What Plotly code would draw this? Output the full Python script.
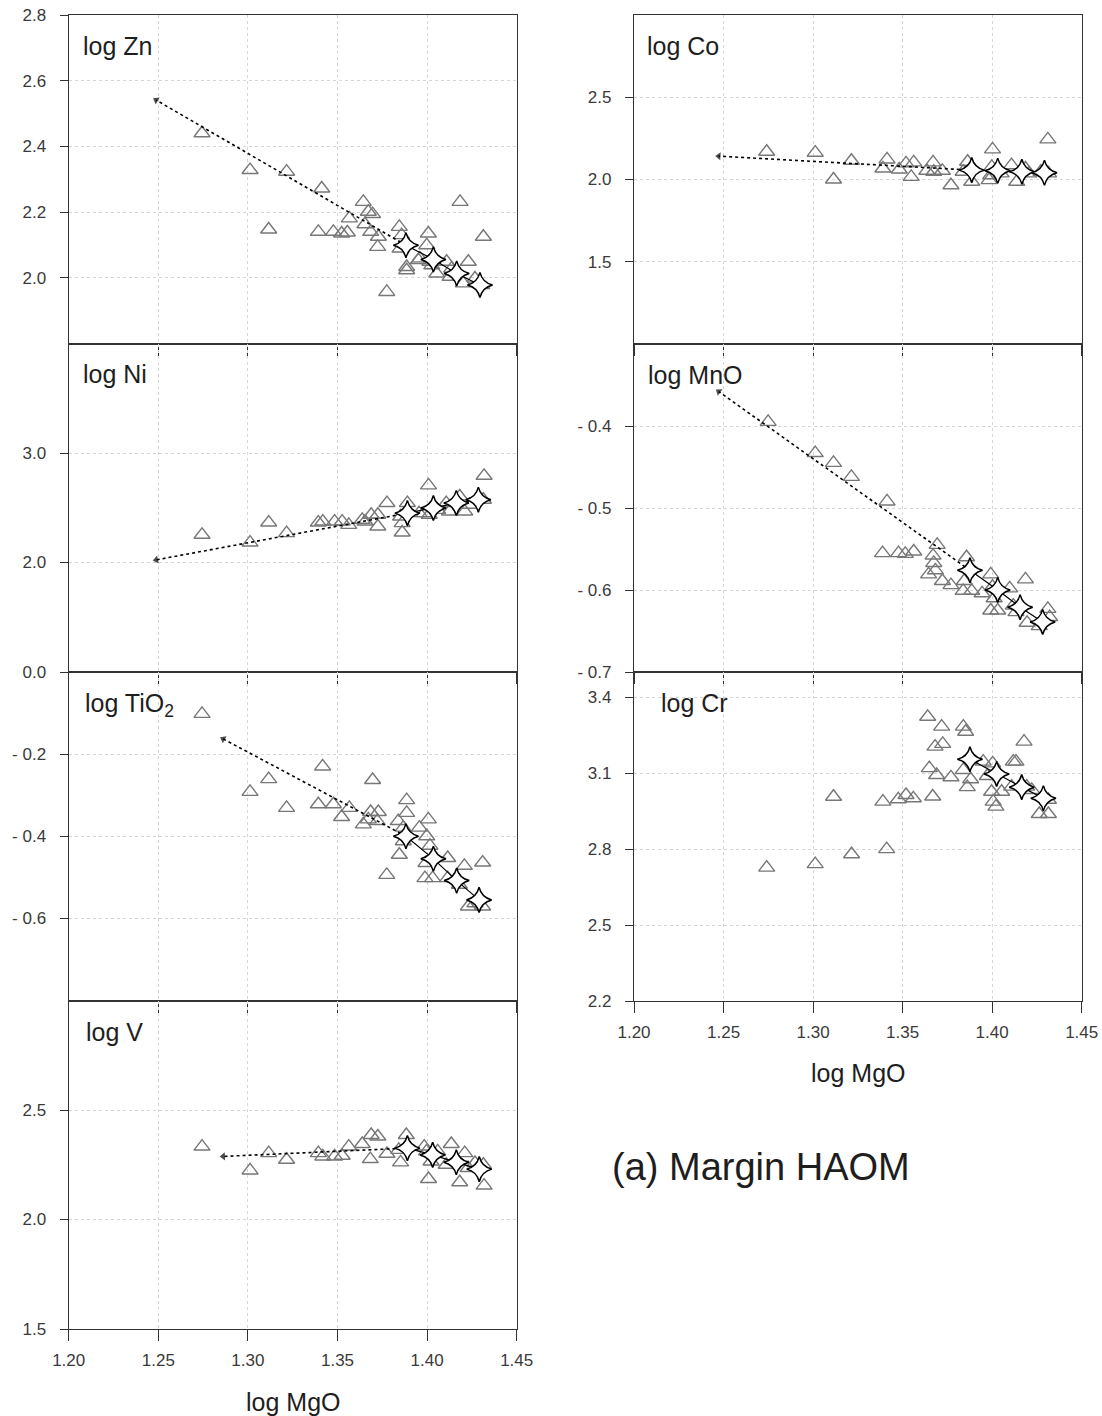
import plotly.graph_objects as go

# ---------------- data ----------------
mgo_ticks = [1.20, 1.25, 1.30, 1.35, 1.40, 1.45]

zn_mgo = [1.2744, 1.3012, 1.3116, 1.3216, 1.3412, 1.3393, 1.3477, 1.3523, 1.3555, 1.3566,
          1.3644, 1.3672, 1.3696, 1.3653, 1.3685, 1.3728, 1.3724, 1.3845, 1.3858, 1.3849,
          1.3886, 1.3886, 1.3775, 1.4007, 1.3998, 1.3960, 1.4016, 1.4054, 1.4109, 1.4128,
          1.4137, 1.4184, 1.4230, 1.4202, 1.4267, 1.4314, 1.4305, 1.3951, 1.4026]
zn_val = [2.440, 2.328, 2.147, 2.323, 2.272, 2.140, 2.140, 2.135, 2.138, 2.181,
          2.231, 2.201, 2.194, 2.163, 2.140, 2.125, 2.094, 2.155, 2.130, 2.089,
          2.033, 2.023, 1.957, 2.135, 2.099, 2.059, 2.049, 2.013, 2.049, 2.003,
          2.028, 2.231, 2.049, 1.983, 1.998, 2.125, 1.978, 2.054, 2.038]
zn_star_mgo = [1.3882, 1.4035, 1.4165, 1.4295]
zn_star_val = [2.099, 2.056, 2.013, 1.978]
zn_tip = [1.2488, 2.541]
zn_yticks = [2.0, 2.2, 2.4, 2.6, 2.8]

ni_mgo = [1.2744, 1.3012, 1.3116, 1.3216, 1.3393, 1.3418, 1.3484, 1.3526, 1.3563, 1.3638,
          1.3654, 1.3688, 1.3725, 1.3725, 1.3776, 1.3852, 1.3861, 1.3861, 1.3890, 1.3955,
          1.3984, 1.4008, 1.4012, 1.4059, 1.4107, 1.4125, 1.4182, 1.4210, 1.4238, 1.4318,
          1.4314]
ni_val = [2.253, 2.182, 2.365, 2.268, 2.365, 2.374, 2.374, 2.374, 2.344, 2.390,
          2.374, 2.436, 2.436, 2.329, 2.543, 2.420, 2.360, 2.274, 2.543, 2.451,
          2.451, 2.704, 2.436, 2.481, 2.543, 2.466, 2.603, 2.466, 2.527, 2.792,
          2.573]
ni_star_mgo = [1.3890, 1.4035, 1.4163, 1.4286]
ni_star_val = [2.451, 2.497, 2.543, 2.573]
ni_tip = [1.2488, 2.024]
ni_yticks = [2.0, 3.0]

ti_mgo = [1.2744, 1.3012, 1.3116, 1.3216, 1.3417, 1.3393, 1.3477, 1.3523, 1.3566, 1.3696,
          1.3644, 1.3685, 1.3728, 1.3672, 1.3722, 1.3886, 1.3886, 1.3839, 1.3867, 1.3867,
          1.3845, 1.3775, 1.3957, 1.4007, 1.3998, 1.4016, 1.3994, 1.3988, 1.4031, 1.4115,
          1.4115, 1.4208, 1.4180, 1.4310, 1.4230, 1.4310, 1.4267]
ti_val = [-0.102, -0.292, -0.261, -0.331, -0.230, -0.322, -0.322, -0.353, -0.331, -0.263,
          -0.371, -0.341, -0.341, -0.359, -0.363, -0.312, -0.343, -0.363, -0.379, -0.412,
          -0.445, -0.494, -0.379, -0.359, -0.400, -0.423, -0.465, -0.502, -0.502, -0.453,
          -0.502, -0.472, -0.518, -0.464, -0.571, -0.571, -0.563]
ti_star_mgo = [1.3882, 1.4035, 1.4165, 1.4290]
ti_star_val = [-0.400, -0.455, -0.508, -0.555]
ti_tip = [1.2862, -0.163]
ti_yticks = [0.0, -0.2, -0.4, -0.6]

v_mgo = [1.2744, 1.3012, 1.3116, 1.3216, 1.3393, 1.3418, 1.3484, 1.3526, 1.3563, 1.3638,
         1.3688, 1.3725, 1.3683, 1.3776, 1.3852, 1.3884, 1.3842, 1.3984, 1.3997, 1.4008,
         1.4022, 1.4059, 1.4107, 1.4135, 1.4182, 1.4210, 1.4229, 1.4267, 1.4318, 1.4314]
v_val = [2.333, 2.224, 2.303, 2.273, 2.303, 2.288, 2.288, 2.291, 2.333, 2.345,
         2.386, 2.379, 2.276, 2.300, 2.261, 2.386, 2.318, 2.333, 2.311, 2.185,
         2.265, 2.311, 2.250, 2.345, 2.170, 2.303, 2.235, 2.258, 2.155, 2.250]
v_star_mgo = [1.3890, 1.4031, 1.4163, 1.4291]
v_star_val = [2.326, 2.295, 2.261, 2.230]
v_tip = [1.2862, 2.288]
v_yticks = [1.5, 2.0, 2.5]

co_mgo = [1.2741, 1.3012, 1.3114, 1.3214, 1.3413, 1.3390, 1.3481, 1.3519, 1.3548, 1.3562,
          1.3635, 1.3670, 1.3674, 1.3722, 1.3770, 1.3838, 1.3863, 1.3886, 1.3983, 1.4002,
          1.3998, 1.3992, 1.4050, 1.4108, 1.4137, 1.4186, 1.4205, 1.4272, 1.4311, 1.4315]
co_val = [2.169, 2.163, 2.000, 2.114, 2.122, 2.067, 2.061, 2.098, 2.016, 2.104,
          2.053, 2.104, 2.047, 2.053, 1.965, 2.047, 2.108, 1.986, 1.996, 2.183,
          2.077, 2.026, 2.037, 2.087, 1.986, 2.067, 2.037, 2.047, 2.244, 2.037]
co_star_mgo = [1.3886, 1.4031, 1.4166, 1.4292]
co_star_val = [2.057, 2.053, 2.047, 2.041]
co_tip = [1.2473, 2.142]
co_yticks = [1.5, 2.0, 2.5]

mn_mgo = [1.2749, 1.3012, 1.3114, 1.3214, 1.3413, 1.3388, 1.3477, 1.3515, 1.3562, 1.3693,
          1.3670, 1.3674, 1.3645, 1.3683, 1.3722, 1.3770, 1.3857, 1.3844, 1.3838, 1.3886,
          1.3944, 1.3992, 1.4002, 1.4011, 1.3992, 1.4031, 1.4098, 1.4118, 1.4186, 1.4133,
          1.4195, 1.4263, 1.4311, 1.4321]
mn_val = [-0.395, -0.433, -0.445, -0.462, -0.492, -0.555, -0.555, -0.556, -0.553, -0.545,
          -0.558, -0.567, -0.581, -0.576, -0.589, -0.594, -0.560, -0.589, -0.601, -0.601,
          -0.604, -0.581, -0.596, -0.610, -0.625, -0.625, -0.598, -0.619, -0.587, -0.627,
          -0.640, -0.644, -0.623, -0.633]
mn_star_mgo = [1.3876, 1.4031, 1.4156, 1.4282]
mn_star_val = [-0.576, -0.600, -0.621, -0.639]
mn_tip = [1.2473, -0.358]
mn_yticks = [-0.4, -0.5, -0.6, -0.7]

cr_mgo = [1.2741, 1.3012, 1.3114, 1.3215, 1.3390, 1.3411, 1.3476, 1.3519, 1.3560, 1.3668,
          1.3640, 1.3718, 1.3839, 1.3852, 1.3681, 1.3724, 1.4178, 1.4118, 1.4133, 1.3649,
          1.3690, 1.3770, 1.3839, 1.3950, 1.4003, 1.3880, 1.3861, 1.3973, 1.3997, 1.4053,
          1.4109, 1.4006, 1.4021, 1.4193, 1.4221, 1.4263, 1.4314, 1.4314]
cr_val = [2.727, 2.741, 3.007, 2.780, 2.988, 2.800, 2.997, 3.014, 3.001, 3.008,
          3.323, 3.284, 3.284, 3.264, 3.205, 3.216, 3.225, 3.146, 3.146, 3.120,
          3.093, 3.084, 3.113, 3.146, 3.139, 3.076, 3.045, 3.089, 3.027, 3.027,
          3.047, 2.988, 2.968, 3.047, 3.034, 2.939, 2.939, 2.995]
cr_star_mgo = [1.3876, 1.4025, 1.4165, 1.4286]
cr_star_val = [3.155, 3.097, 3.045, 3.001]
cr_tip = None
cr_yticks = [2.2, 2.5, 2.8, 3.1, 3.4]

# ---------------- layout geometry / styles ----------------
W, H = 1102, 1416
FONT = "Liberation Sans, Arial, Helvetica, sans-serif"
LEFT = (68.7, 516.7)
RIGHT = (634.0, 1081.7)

panels = [
    dict(label="log Zn", mgo=zn_mgo, val=zn_val, smgo=zn_star_mgo, sval=zn_star_val, tip=zn_tip,
         col=LEFT, top=15, bot=343.5, yr=[1.8, 2.8], yt=zn_yticks, xl=False, lx=80.5),
    dict(label="log Ni", mgo=ni_mgo, val=ni_val, smgo=ni_star_mgo, sval=ni_star_val, tip=ni_tip,
         col=LEFT, top=343.5, bot=672, yr=[1.0, 4.0], yt=ni_yticks, xl=False, lx=81),
    dict(label="log TiO<sub>2</sub>", mgo=ti_mgo, val=ti_val, smgo=ti_star_mgo, sval=ti_star_val, tip=ti_tip,
         col=LEFT, top=672, bot=1000.5, yr=[-0.8, 0.0], yt=ti_yticks, xl=False, lx=82.5),
    dict(label="log V", mgo=v_mgo, val=v_val, smgo=v_star_mgo, sval=v_star_val, tip=v_tip,
         col=LEFT, top=1000.5, bot=1329, yr=[1.5, 3.0], yt=v_yticks, xl=True, lx=83.5),
    dict(label="log Co", mgo=co_mgo, val=co_val, smgo=co_star_mgo, sval=co_star_val, tip=co_tip,
         col=RIGHT, top=15, bot=344, yr=[1.0, 3.0], yt=co_yticks, xl=False, lx=644.5),
    dict(label="log MnO", mgo=mn_mgo, val=mn_val, smgo=mn_star_mgo, sval=mn_star_val, tip=mn_tip,
         col=RIGHT, top=344, bot=672, yr=[-0.7, -0.3], yt=mn_yticks, xl=False, lx=645.5),
    dict(label="log Cr", mgo=cr_mgo, val=cr_val, smgo=cr_star_mgo, sval=cr_star_val, tip=cr_tip,
         col=RIGHT, top=672, bot=1001, yr=[2.2, 3.5], yt=cr_yticks, xl=True, lx=659),
]


def fmt(v):
    return f"- {abs(v):.1f}" if v < -1e-9 else f"{v:.1f}"


AX = "#333333"
GRID = "#d6d6d6"
TICKFONT = dict(family=FONT, size=17, color="#3a3a3a")

fig = go.Figure()
layout = dict(
    width=W, height=H, margin=dict(l=0, r=0, t=0, b=0, autoexpand=False),
    paper_bgcolor="white", plot_bgcolor="rgba(0,0,0,0)",
    showlegend=False, hovermode=False, font=dict(family=FONT),
)
annotations = []

for i, p in enumerate(panels, start=1):
    s = "" if i == 1 else str(i)
    xa, ya = "x" + s, "y" + s
    # triangles
    fig.add_trace(go.Scatter(
        x=p["mgo"], y=p["val"], mode="markers", xaxis=xa, yaxis=ya,
        marker=dict(symbol="triangle-up-open", size=14, color="#777777", line=dict(width=1.4)),
        cliponaxis=False))
    # dotted trend arrow
    if p["tip"] is not None:
        fig.add_trace(go.Scatter(
            x=[p["smgo"][0], p["tip"][0]], y=[p["sval"][0], p["tip"][1]],
            mode="lines+markers", xaxis=xa, yaxis=ya,
            line=dict(color="black", width=1.6, dash="dot"),
            marker=dict(symbol=["circle", "triangle-up"], size=[0, 7], color="black",
                        angleref="previous", line=dict(width=0))))
    # model path with stars
    fig.add_trace(go.Scatter(
        x=p["smgo"], y=p["sval"], mode="lines+markers", xaxis=xa, yaxis=ya,
        line=dict(color="black", width=1.2),
        marker=dict(symbol="star-diamond", size=18, color="white",
                    line=dict(color="black", width=1.5))))

    x0, x1 = p["col"]
    layout["xaxis" + s] = dict(
        domain=[x0 / W, x1 / W], anchor=ya, range=[1.20, 1.45], automargin=False,
        tickmode="array", tickvals=mgo_ticks, ticktext=[f"{t:.2f}" for t in mgo_ticks],
        showticklabels=p["xl"], ticks="outside", ticklen=11, tickwidth=1.3, tickcolor=AX,
        showline=True, mirror=True, linecolor=AX, linewidth=1.3,
        showgrid=True, gridcolor=GRID, griddash="dot", gridwidth=1, zeroline=False,
        tickfont=TICKFONT, ticklabelstandoff=4,
    )
    layout["yaxis" + s] = dict(
        domain=[1 - p["bot"] / H, 1 - p["top"] / H], anchor=xa, range=p["yr"], automargin=False,
        tickmode="array", tickvals=p["yt"], ticktext=[fmt(v) for v in p["yt"]],
        ticks="outside", ticklen=8, tickwidth=1.3, tickcolor=AX,
        showline=True, mirror=True, linecolor=AX, linewidth=1.3,
        showgrid=True, gridcolor=GRID, griddash="dot", gridwidth=1, zeroline=False,
        tickfont=TICKFONT, ticklabelstandoff=10,
    )
    annotations.append(dict(
        text=p["label"], xref="paper", yref="paper", x=p["lx"] / W, y=1 - (p["top"] + 15) / H,
        xanchor="left", yanchor="top", showarrow=False,
        font=dict(family=FONT, size=25, color="#1e1e1e")))

# axis titles and caption
annotations.append(dict(text="log MgO", xref="paper", yref="paper",
                        x=sum(LEFT) / 2 / W, y=1 - 1402 / H, xanchor="center", yanchor="middle",
                        showarrow=False, font=dict(family=FONT, size=25, color="#1e1e1e")))
annotations.append(dict(text="log MgO", xref="paper", yref="paper",
                        x=sum(RIGHT) / 2 / W, y=1 - 1073 / H, xanchor="center", yanchor="middle",
                        showarrow=False, font=dict(family=FONT, size=25, color="#1e1e1e")))
annotations.append(dict(text="(a) Margin HAOM", xref="paper", yref="paper",
                        x=610 / W, y=1 - 1167 / H, xanchor="left", yanchor="middle",
                        showarrow=False, font=dict(family=FONT, size=38, color="#1e1e1e")))

layout["annotations"] = annotations
fig.update_layout(**layout)

fig.write_html("out.html", config={"displayModeBar": False},
               post_script="document.body.style.margin='0';")
